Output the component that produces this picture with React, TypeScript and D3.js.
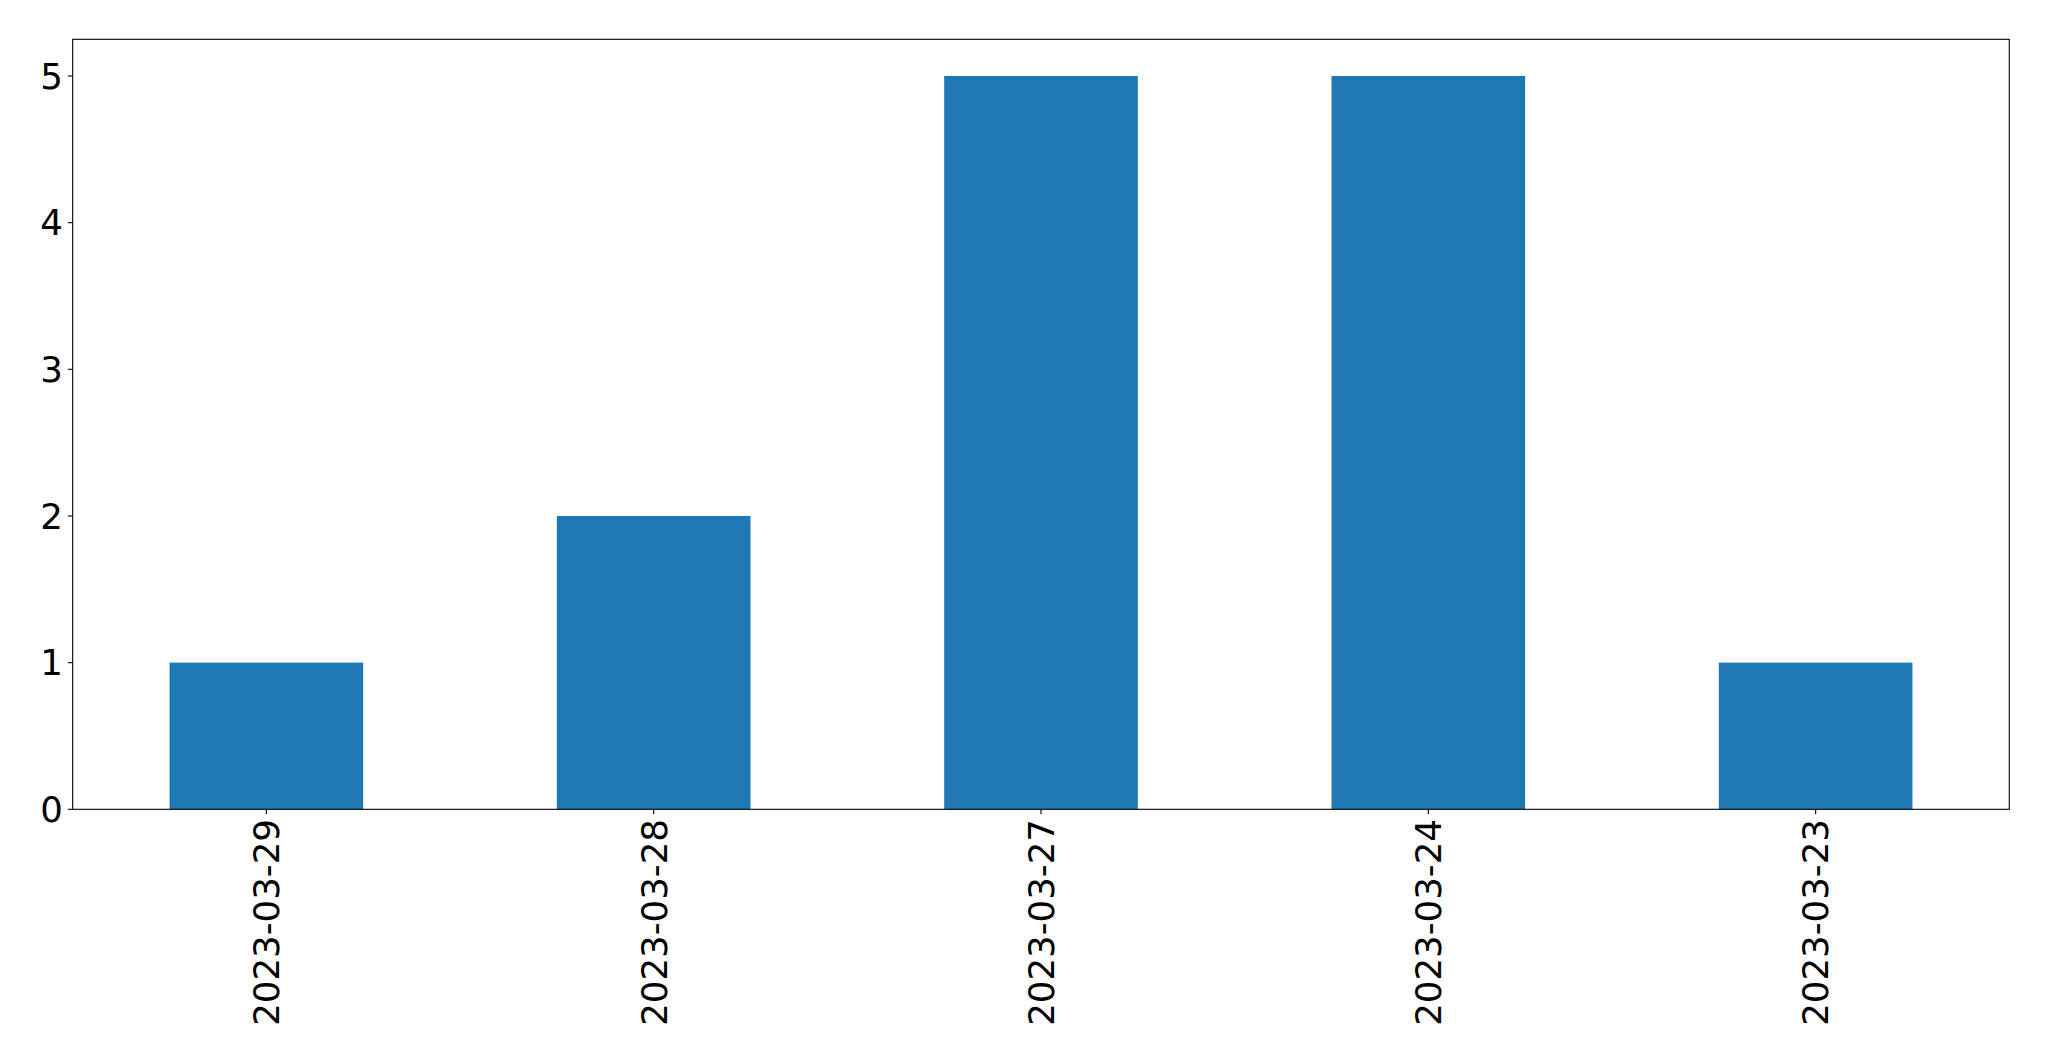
import React, { useEffect, useRef } from "react";
import * as d3 from "d3";

const categories = ["2023-03-29", "2023-03-28", "2023-03-27", "2023-03-24", "2023-03-23"];
const counts = [1, 2, 5, 5, 1];
const yTicks = [0, 1, 2, 3, 4, 5];

const W = 2049;
const H = 1061;
const M = { left: 72.7, right: 2009.3, top: 39.3, bottom: 809.3 };
const FONT = 35.6;
const TICK = 4.86;
const PAD = 4.86;

export default function App() {
  const ref = useRef<SVGSVGElement>(null);

  useEffect(() => {
    const svg = d3.select(ref.current);
    svg.selectAll("*").remove();

    const x = d3.scaleLinear().domain([-0.5, categories.length - 0.5]).range([M.left, M.right]);
    const y = d3.scaleLinear().domain([0, 5.25]).range([M.bottom, M.top]);

    svg.append("rect").attr("x", 0).attr("y", 0).attr("width", W).attr("height", H).attr("fill", "white");

    const bw = 0.5;
    svg
      .append("g")
      .selectAll("rect")
      .data(counts)
      .join("rect")
      .attr("x", (_, i) => x(i - bw / 2))
      .attr("width", (_, i) => x(i + bw / 2) - x(i - bw / 2))
      .attr("y", (d) => y(d))
      .attr("height", (d) => y(0) - y(d))
      .attr("fill", "#1f77b4");

    // spines
    svg
      .append("rect")
      .attr("x", M.left)
      .attr("y", M.top)
      .attr("width", M.right - M.left)
      .attr("height", M.bottom - M.top)
      .attr("fill", "none")
      .attr("stroke", "black")
      .attr("stroke-width", 1.1);

    // y ticks
    const yg = svg.append("g");
    yTicks.forEach((t) => {
      yg.append("line")
        .attr("x1", M.left - TICK)
        .attr("x2", M.left)
        .attr("y1", y(t))
        .attr("y2", y(t))
        .attr("stroke", "black")
        .attr("stroke-width", 1.1);
      yg.append("text")
        .attr("x", M.left - TICK - PAD)
        .attr("y", y(t))
        .attr("dy", "0.36em")
        .attr("text-anchor", "end")
        .attr("font-family", "DejaVu Sans")
        .attr("font-size", FONT)
        .attr("fill", "black")
        .text(String(t));
    });

    // x ticks
    const xg = svg.append("g");
    categories.forEach((c, i) => {
      const cx = x(i);
      xg.append("line")
        .attr("x1", cx)
        .attr("x2", cx)
        .attr("y1", M.bottom)
        .attr("y2", M.bottom + TICK)
        .attr("stroke", "black")
        .attr("stroke-width", 1.1);
      const ty = M.bottom + TICK + PAD;
      xg.append("text")
        .attr("transform", `translate(${cx},${ty}) rotate(-90)`)
        .attr("dy", "0.36em")
        .attr("text-anchor", "end")
        .attr("font-family", "DejaVu Sans")
        .attr("font-size", FONT)
        .attr("fill", "black")
        .text(c);
    });
  }, []);

  return (
    <svg
      ref={ref}
      width={W}
      height={H}
      style={{ position: "absolute", left: 0, top: 0, display: "block" }}
    />
  );
}
